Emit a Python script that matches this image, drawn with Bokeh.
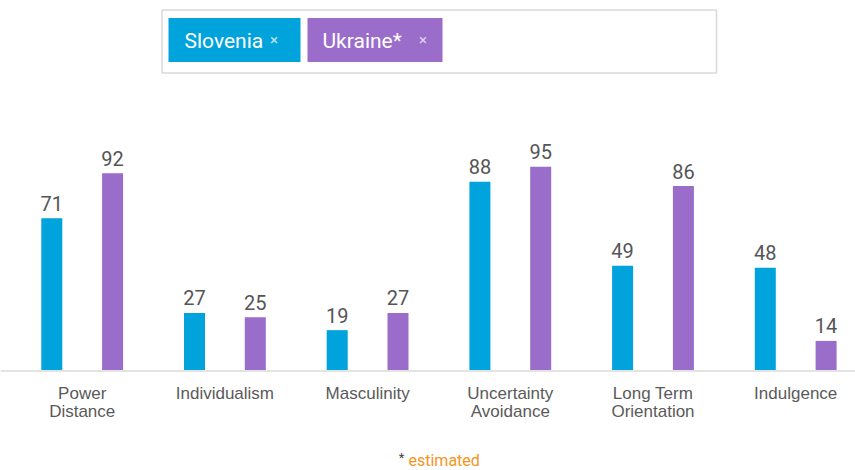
from bokeh.plotting import figure
from bokeh.models import Range1d, Span
from bokeh.core.properties import value
from bokeh.embed import file_html
from bokeh.resources import INLINE

# ---- data ----
categories = ["Power\nDistance", "Individualism", "Masculinity",
              "Uncertainty\nAvoidance", "Long Term\nOrientation", "Indulgence"]
slovenia = [71, 27, 19, 88, 49, 48]
ukraine = [92, 25, 27, 95, 86, 14]
series_names = ["Slovenia", "Ukraine*"]
footnote_mark = "*"
footnote_text = "estimated"

# ---- styling / layout ----
BLUE = "#00a3dc"
PURPLE = "#9b6dca"
ORANGE = "#f7941d"
W, H = 855, 470
PX_PER_UNIT = 2.15
BASE = 370.5           # picture y of the baseline
TOP, BOTTOM = 0, 470   # picture y of figure top / bottom

p = figure(width=W, height=H, output_backend="svg", toolbar_location=None,
           x_range=Range1d(0, W),
           y_range=Range1d((BASE - BOTTOM) / PX_PER_UNIT, (BASE - TOP) / PX_PER_UNIT),
           x_axis_location=None, y_axis_location=None, min_border=0,
           outline_line_color=None, background_fill_color="white",
           border_fill_color="white")
p.extra_y_ranges = {"px": Range1d(BOTTOM, TOP)}
p.grid.visible = False

x0, step, gap, bar_w = 51.3, 142.7, 60.8, 21
slo_x = [x0 + i * step for i in range(len(categories))]
ukr_x = [x + gap for x in slo_x]
centers = [x + gap / 2 for x in slo_x]

p.vbar(x=slo_x, top=slovenia, bottom=0, width=bar_w, fill_color=BLUE, line_color=None)
p.vbar(x=ukr_x, top=ukraine, bottom=0, width=bar_w, fill_color=PURPLE, line_color=None)

p.add_layout(Span(location=0, dimension="width", line_color="#e3e3e3", line_width=2))

num_style = dict(text_align="center", text_baseline="alphabetic", y_offset=-15,
                 text_font=value("Roboto"), text_font_size="20px", text_color="#555555")
p.text(x=slo_x, y=slovenia, text=[str(v) for v in slovenia], **num_style)
p.text(x=ukr_x, y=ukraine, text=[str(v) for v in ukraine], **num_style)

# category labels (two lines where needed)
cat_style = dict(text_align="center", text_baseline="alphabetic",
                 text_font=value("Liberation Sans"), text_font_size="17px",
                 text_color="#5a5a5a")
l1_x, l1_t, l2_x, l2_t = [], [], [], []
for cx, c in zip(centers, categories):
    parts = c.split("\n")
    l1_x.append(cx); l1_t.append(parts[0])
    if len(parts) > 1:
        l2_x.append(cx); l2_t.append(parts[1])
p.text(x=l1_x, y=[0] * len(l1_x), text=l1_t, y_offset=22.5, **cat_style)
p.text(x=l2_x, y=[0] * len(l2_x), text=l2_t, y_offset=40, **cat_style)

# footnote
p.text(x=[401], y=[457], text=[footnote_mark], y_range_name="px", text_align="center",
       text_baseline="alphabetic", text_font=value("Roboto"), text_font_size="13px",
       text_color="#444444")
p.text(x=[408], y=[460], text=[footnote_text], y_range_name="px", text_align="left",
       text_baseline="alphabetic", text_font=value("Roboto"), text_font_size="16px",
       text_color=ORANGE)

# legend box with chips
p.quad(left=[161.5], right=[716], top=[9.5], bottom=[72.5], y_range_name="px",
       fill_color="white", line_color="#d9d9d9", line_width=1.5)
p.quad(left=[168, 307], right=[300, 442], top=[17.5, 17.5], bottom=[61.5, 61.5],
       y_range_name="px", fill_color=[BLUE, PURPLE], line_color=None)
p.text(x=[184, 322], y=[40, 40], text=series_names, y_range_name="px",
       text_align="left", text_baseline="alphabetic", text_font=value("Roboto"),
       text_font_size="21px", text_color="white")
p.text(x=[273.5, 422.5], y=[39, 39], text=["\u00d7", "\u00d7"], y_range_name="px",
       text_align="center", text_baseline="alphabetic", text_font=value("Roboto"),
       text_font_size="15px", text_color=["#bfe5f4", "#e0d2ef"])

open("out.html", "w").write(file_html(p, INLINE))
